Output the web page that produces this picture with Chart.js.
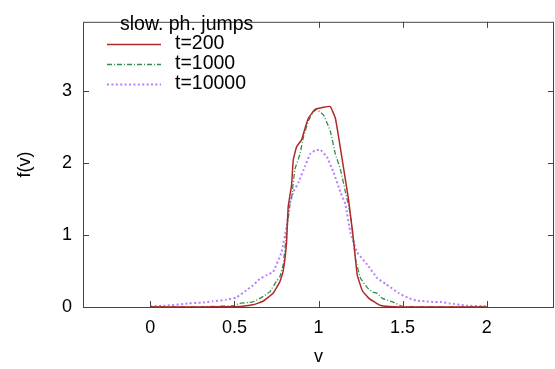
<!DOCTYPE html>
<html>
<head>
<meta charset="utf-8">
<script src="https://cdn.jsdelivr.net/npm/chart.js@4"></script>
<style>
  html, body { margin: 0; padding: 0; background: #fff; }
  #wrap { width: 555px; height: 369px; }
</style>
</head>
<body>
<div id="wrap"><canvas id="chart" width="555" height="369"></canvas></div>
<script>
// t=200
const v200 = [0, 0.3, 0.5, 0.55, 0.61, 0.67, 0.73, 0.77, 0.79, 0.81, 0.82, 0.84, 0.85, 0.87, 0.90, 0.92, 0.94, 0.98, 1.03, 1.07, 1.10, 1.12, 1.15, 1.18, 1.21, 1.23, 1.26, 1.30, 1.36, 1.40, 1.5, 2.0];
const f200 = [0, 0, 0.005, 0.01, 0.03, 0.08, 0.19, 0.35, 0.5, 0.9, 1.4, 1.7, 2.05, 2.23, 2.33, 2.49, 2.63, 2.75, 2.78, 2.79, 2.63, 2.36, 1.92, 1.47, 0.89, 0.45, 0.23, 0.12, 0.03, 0.01, 0, 0];
// t=1000
const v1000 = [0, 0.2, 0.3, 0.4, 0.5, 0.53, 0.61, 0.66, 0.71, 0.75, 0.77, 0.79, 0.81, 0.83, 0.84, 0.86, 0.89, 0.91, 0.94, 0.97, 0.99, 1.03, 1.07, 1.10, 1.13, 1.16, 1.18, 1.20, 1.22, 1.25, 1.29, 1.32, 1.35, 1.38, 1.44, 1.50, 1.6, 2.0];
const f1000 = [0, 0, 0.005, 0.01, 0.02, 0.05, 0.07, 0.13, 0.21, 0.36, 0.42, 0.59, 1.03, 1.43, 1.52, 1.92, 2.13, 2.36, 2.59, 2.72, 2.75, 2.67, 2.45, 2.13, 1.92, 1.6, 1.4, 1.12, 0.67, 0.4, 0.27, 0.21, 0.19, 0.12, 0.07, 0.01, 0, 0];
// t=10000
const v10000 = [0, 0.1, 0.23, 0.3, 0.37, 0.45, 0.51, 0.57, 0.61, 0.65, 0.69, 0.73, 0.78, 0.81, 0.83, 0.85, 0.88, 0.92, 0.95, 0.98, 1.01, 1.05, 1.09, 1.13, 1.16, 1.19, 1.23, 1.29, 1.35, 1.40, 1.48, 1.53, 1.58, 1.63, 1.68, 1.73, 1.78, 1.88, 2.0];
const f10000 = [0.01, 0.02, 0.05, 0.06, 0.08, 0.1, 0.13, 0.23, 0.3, 0.39, 0.44, 0.49, 0.76, 1.12, 1.45, 1.6, 1.73, 1.96, 2.13, 2.18, 2.19, 2.09, 1.87, 1.6, 1.43, 1.03, 0.76, 0.59, 0.4, 0.32, 0.19, 0.13, 0.09, 0.08, 0.07, 0.07, 0.05, 0.02, 0.01];

const seriesLabels = ['t=200', 't=1000', 't=10000'];
const legendTitle = 'slow. ph. jumps';
const xTicks = [0, 0.5, 1, 1.5, 2];
const yTicks = [0, 1, 2, 3];

const FONT = 'Liberation Sans, Arial, sans-serif';
const COLORS = ['#b02a2a', '#2f8f4f', '#bb7dff'];
const DASHES = [[], [5, 2, 1, 2], [2, 2.4]];
const WIDTHS = [1.5, 1.3, 2];

function pts(xs, ys) {
  return xs.map((x, i) => ({ x: x, y: ys[i] }));
}

const data = [pts(v200, f200), pts(v1000, f1000), pts(v10000, f10000)];

// frame, inward ticks (mirrored) and the legend box, gnuplot style
const framePlugin = {
  id: 'frame',
  afterDatasetsDraw(chart) {
    const ctx = chart.ctx;
    const a = chart.chartArea;
    const xs = chart.scales.x, ys = chart.scales.y;
    ctx.save();
    ctx.strokeStyle = '#444';
    ctx.lineWidth = 1;
    ctx.setLineDash([]);
    ctx.strokeRect(a.left + 0.5, a.top + 0.5, a.right - a.left - 1, a.bottom - a.top);
    ctx.beginPath();
    xTicks.forEach(v => {
      const px = Math.round(xs.getPixelForValue(v)) + 0.5;
      ctx.moveTo(px, a.bottom); ctx.lineTo(px, a.bottom - 6);
      ctx.moveTo(px, a.top); ctx.lineTo(px, a.top + 6);
    });
    yTicks.forEach(v => {
      const py = Math.round(ys.getPixelForValue(v)) + 0.5;
      ctx.moveTo(a.left, py); ctx.lineTo(a.left + 6, py);
      ctx.moveTo(a.right, py); ctx.lineTo(a.right - 6, py);
    });
    ctx.stroke();

    // legend
    ctx.font = '19.5px ' + FONT;
    ctx.fillStyle = '#000';
    ctx.textBaseline = 'middle';
    ctx.textAlign = 'left';
    ctx.fillText(legendTitle, a.left + 37, 25);
    seriesLabels.forEach((lab, i) => {
      const y = 44 + i * 20;
      ctx.strokeStyle = COLORS[i];
      ctx.lineWidth = WIDTHS[i];
      ctx.setLineDash(DASHES[i]);
      ctx.beginPath();
      ctx.moveTo(a.left + 24, y + 0.5);
      ctx.lineTo(a.left + 78, y + 0.5);
      ctx.stroke();
      ctx.fillText(lab, a.left + 92, y);
    });
    ctx.restore();
  }
};

new Chart(document.getElementById('chart'), {
  type: 'scatter',
  data: {
    datasets: data.map((d, i) => ({
      label: seriesLabels[i],
      data: d,
      showLine: true,
      borderColor: COLORS[i],
      borderWidth: WIDTHS[i],
      borderDash: DASHES[i],
      pointRadius: 0,
      tension: 0.1,
      fill: false
    }))
  },
  options: {
    responsive: false,
    animation: false,
    devicePixelRatio: 1,
    layout: { padding: { top: 9, right: 1, left: 0, bottom: 0 } },
    plugins: { legend: { display: false }, tooltip: { enabled: false } },
    scales: {
      x: {
        type: 'linear',
        min: -0.4,
        max: 2.4,
        afterBuildTicks: s => { s.ticks = xTicks.map(v => ({ value: v })); },
        afterFit: s => { s.height = 62; },
        grid: { display: false, drawTicks: false },
        border: { display: false },
        ticks: {
          color: '#000',
          padding: 10,
          maxRotation: 0,
          font: { family: FONT, size: 18 },
          callback: v => String(v)
        },
        title: {
          display: true,
          text: 'v',
          color: '#000',
          padding: { top: 0, bottom: 1 },
          font: { family: FONT, size: 18 }
        }
      },
      y: {
        type: 'linear',
        min: 0,
        max: 3.97,
        afterBuildTicks: s => { s.ticks = yTicks.map(v => ({ value: v })); },
        afterFit: s => { s.width = 83; },
        grid: { display: false, drawTicks: false },
        border: { display: false },
        ticks: {
          color: '#000',
          padding: 11,
          font: { family: FONT, size: 18 },
          callback: v => String(v)
        },
        title: {
          display: true,
          text: 'f(v)',
          color: '#000',
          padding: { top: 14, bottom: 14 },
          font: { family: FONT, size: 18 }
        }
      }
    }
  },
  plugins: [framePlugin]
});
</script>
</body>
</html>
